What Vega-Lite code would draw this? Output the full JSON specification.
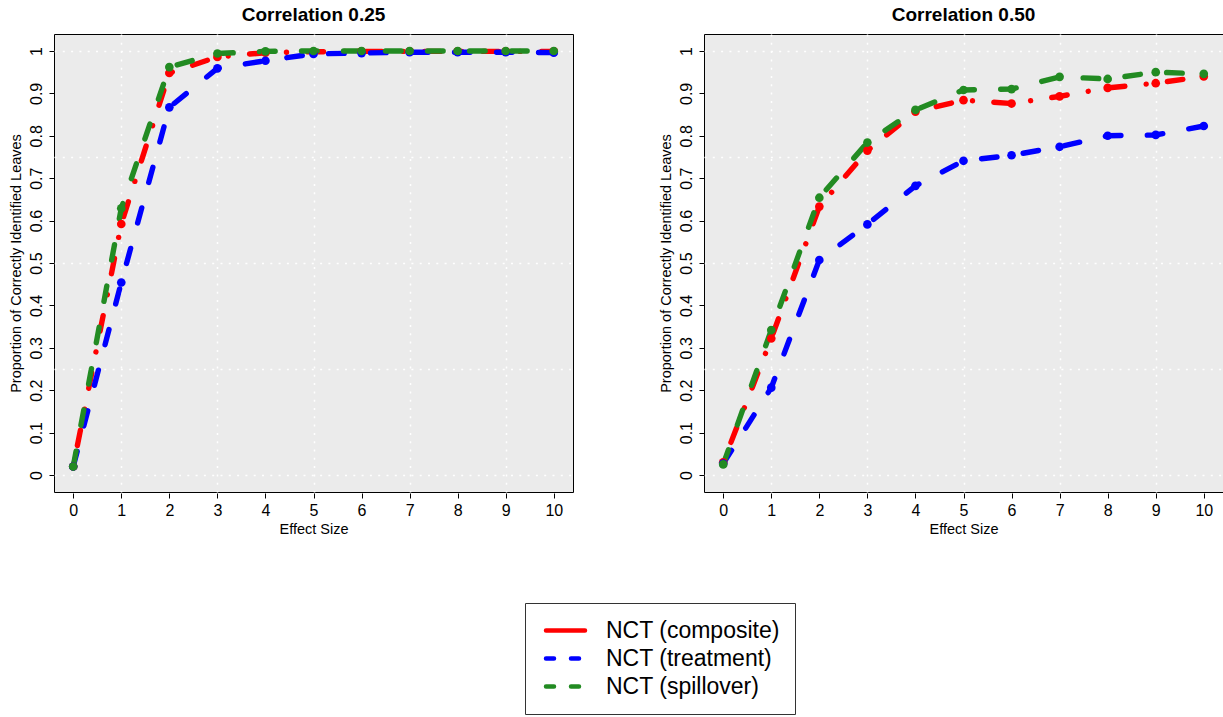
{
  "$schema": "https://vega.github.io/schema/vega-lite/v6.json",
  "padding": {"left": 8, "top": 6, "right": 0, "bottom": 0},
  "config": {
    "font": "Liberation Sans",
    "view": {"fill": "#EBEBEB", "stroke": "black", "strokeWidth": 1},
    "axis": {
      "domain": false, "tickColor": "black", "tickSize": 5, "tickWidth": 1,
      "labelColor": "black", "labelFontSize": 16, "labelFont": "Liberation Sans",
      "titleFontSize": 14.5, "titleFontWeight": "normal", "titleColor": "black", "titleFont": "Liberation Sans",
      "gridColor": "white", "gridDash": [2, 6.3], "gridWidth": 1.5
    },
    "legend": {
      "orient": "none", "legendX": 471, "legendY": 569, "direction": "vertical",
      "symbolType": "M-0.65,0H3.25", "symbolSize": 400, "symbolStrokeWidth": 4.5,
      "labelFontSize": 23, "labelFont": "Liberation Sans", "labelColor": "black", "labelOffset": 41, "labelLimit": 0,
      "padding": 15, "rowPadding": 3, "strokeColor": "#333333", "fillColor": "white", "title": null
    }
  },
  "data": {"values": [
    {"panel": "Correlation 0.25", "method": "NCT (composite)", "effect": 0, "prop": 0.02},
    {"panel": "Correlation 0.25", "method": "NCT (composite)", "effect": 1, "prop": 0.592},
    {"panel": "Correlation 0.25", "method": "NCT (composite)", "effect": 2, "prop": 0.948},
    {"panel": "Correlation 0.25", "method": "NCT (composite)", "effect": 3, "prop": 0.986},
    {"panel": "Correlation 0.25", "method": "NCT (composite)", "effect": 4, "prop": 0.996},
    {"panel": "Correlation 0.25", "method": "NCT (composite)", "effect": 5, "prop": 0.998},
    {"panel": "Correlation 0.25", "method": "NCT (composite)", "effect": 6, "prop": 0.999},
    {"panel": "Correlation 0.25", "method": "NCT (composite)", "effect": 7, "prop": 0.999},
    {"panel": "Correlation 0.25", "method": "NCT (composite)", "effect": 8, "prop": 0.999},
    {"panel": "Correlation 0.25", "method": "NCT (composite)", "effect": 9, "prop": 0.999},
    {"panel": "Correlation 0.25", "method": "NCT (composite)", "effect": 10, "prop": 0.999},
    {"panel": "Correlation 0.25", "method": "NCT (treatment)", "effect": 0, "prop": 0.02},
    {"panel": "Correlation 0.25", "method": "NCT (treatment)", "effect": 1, "prop": 0.454},
    {"panel": "Correlation 0.25", "method": "NCT (treatment)", "effect": 2, "prop": 0.867},
    {"panel": "Correlation 0.25", "method": "NCT (treatment)", "effect": 3, "prop": 0.959},
    {"panel": "Correlation 0.25", "method": "NCT (treatment)", "effect": 4, "prop": 0.977},
    {"panel": "Correlation 0.25", "method": "NCT (treatment)", "effect": 5, "prop": 0.993},
    {"panel": "Correlation 0.25", "method": "NCT (treatment)", "effect": 6, "prop": 0.995},
    {"panel": "Correlation 0.25", "method": "NCT (treatment)", "effect": 7, "prop": 0.997},
    {"panel": "Correlation 0.25", "method": "NCT (treatment)", "effect": 8, "prop": 0.997},
    {"panel": "Correlation 0.25", "method": "NCT (treatment)", "effect": 9, "prop": 0.997},
    {"panel": "Correlation 0.25", "method": "NCT (treatment)", "effect": 10, "prop": 0.996},
    {"panel": "Correlation 0.25", "method": "NCT (spillover)", "effect": 0, "prop": 0.02},
    {"panel": "Correlation 0.25", "method": "NCT (spillover)", "effect": 1, "prop": 0.629},
    {"panel": "Correlation 0.25", "method": "NCT (spillover)", "effect": 2, "prop": 0.962},
    {"panel": "Correlation 0.25", "method": "NCT (spillover)", "effect": 3, "prop": 0.994},
    {"panel": "Correlation 0.25", "method": "NCT (spillover)", "effect": 4, "prop": 0.999},
    {"panel": "Correlation 0.25", "method": "NCT (spillover)", "effect": 5, "prop": 1.0},
    {"panel": "Correlation 0.25", "method": "NCT (spillover)", "effect": 6, "prop": 1.0},
    {"panel": "Correlation 0.25", "method": "NCT (spillover)", "effect": 7, "prop": 1.0},
    {"panel": "Correlation 0.25", "method": "NCT (spillover)", "effect": 8, "prop": 1.0},
    {"panel": "Correlation 0.25", "method": "NCT (spillover)", "effect": 9, "prop": 1.0},
    {"panel": "Correlation 0.25", "method": "NCT (spillover)", "effect": 10, "prop": 1.0},
    {"panel": "Correlation 0.50", "method": "NCT (composite)", "effect": 0, "prop": 0.03},
    {"panel": "Correlation 0.50", "method": "NCT (composite)", "effect": 1, "prop": 0.322},
    {"panel": "Correlation 0.50", "method": "NCT (composite)", "effect": 2, "prop": 0.633},
    {"panel": "Correlation 0.50", "method": "NCT (composite)", "effect": 3, "prop": 0.765},
    {"panel": "Correlation 0.50", "method": "NCT (composite)", "effect": 4, "prop": 0.857},
    {"panel": "Correlation 0.50", "method": "NCT (composite)", "effect": 5, "prop": 0.884},
    {"panel": "Correlation 0.50", "method": "NCT (composite)", "effect": 6, "prop": 0.876},
    {"panel": "Correlation 0.50", "method": "NCT (composite)", "effect": 7, "prop": 0.893},
    {"panel": "Correlation 0.50", "method": "NCT (composite)", "effect": 8, "prop": 0.913},
    {"panel": "Correlation 0.50", "method": "NCT (composite)", "effect": 9, "prop": 0.924},
    {"panel": "Correlation 0.50", "method": "NCT (composite)", "effect": 10, "prop": 0.94},
    {"panel": "Correlation 0.50", "method": "NCT (treatment)", "effect": 0, "prop": 0.027},
    {"panel": "Correlation 0.50", "method": "NCT (treatment)", "effect": 1, "prop": 0.206},
    {"panel": "Correlation 0.50", "method": "NCT (treatment)", "effect": 2, "prop": 0.507},
    {"panel": "Correlation 0.50", "method": "NCT (treatment)", "effect": 3, "prop": 0.591},
    {"panel": "Correlation 0.50", "method": "NCT (treatment)", "effect": 4, "prop": 0.682},
    {"panel": "Correlation 0.50", "method": "NCT (treatment)", "effect": 5, "prop": 0.741},
    {"panel": "Correlation 0.50", "method": "NCT (treatment)", "effect": 6, "prop": 0.754},
    {"panel": "Correlation 0.50", "method": "NCT (treatment)", "effect": 7, "prop": 0.774},
    {"panel": "Correlation 0.50", "method": "NCT (treatment)", "effect": 8, "prop": 0.8},
    {"panel": "Correlation 0.50", "method": "NCT (treatment)", "effect": 9, "prop": 0.802},
    {"panel": "Correlation 0.50", "method": "NCT (treatment)", "effect": 10, "prop": 0.823},
    {"panel": "Correlation 0.50", "method": "NCT (spillover)", "effect": 0, "prop": 0.025},
    {"panel": "Correlation 0.50", "method": "NCT (spillover)", "effect": 1, "prop": 0.342},
    {"panel": "Correlation 0.50", "method": "NCT (spillover)", "effect": 2, "prop": 0.654},
    {"panel": "Correlation 0.50", "method": "NCT (spillover)", "effect": 3, "prop": 0.784},
    {"panel": "Correlation 0.50", "method": "NCT (spillover)", "effect": 4, "prop": 0.861},
    {"panel": "Correlation 0.50", "method": "NCT (spillover)", "effect": 5, "prop": 0.908},
    {"panel": "Correlation 0.50", "method": "NCT (spillover)", "effect": 6, "prop": 0.91},
    {"panel": "Correlation 0.50", "method": "NCT (spillover)", "effect": 7, "prop": 0.939},
    {"panel": "Correlation 0.50", "method": "NCT (spillover)", "effect": 8, "prop": 0.934},
    {"panel": "Correlation 0.50", "method": "NCT (spillover)", "effect": 9, "prop": 0.95},
    {"panel": "Correlation 0.50", "method": "NCT (spillover)", "effect": 10, "prop": 0.946}
  ]},
  "facet": {"column": {"field": "panel", "type": "nominal", "header": {"title": null, "labelFontSize": 19, "labelFontWeight": "bold", "labelColor": "black", "labelFont": "Liberation Sans", "labelPadding": 8}}},
  "spacing": 84,
  "resolve": {"axis": {"y": "independent"}},
  "spec": {
    "width": 519,
    "height": 458,
    "encoding": {
      "x": {"field": "effect", "type": "quantitative", "scale": {"domain": [-0.4, 10.4], "nice": false, "zero": false},
        "axis": {"title": "Effect Size", "values": [0, 1, 2, 3, 4, 5, 6, 7, 8, 9, 10], "labelPadding": 4, "titlePadding": 4, "labelFlush": false, "labelOverlap": false,
          "gridOpacity": {"condition": {"test": "datum.value % 2 == 1", "value": 1}, "value": 0}}},
      "y": {"field": "prop", "type": "quantitative", "scale": {"domain": [-0.04, 1.04], "nice": false, "zero": false},
        "axis": {"title": "Proportion of Correctly Identified Leaves", "values": [0, 0.1, 0.2, 0.25, 0.3, 0.4, 0.5, 0.6, 0.7, 0.75, 0.8, 0.9, 1],
          "labelAngle": -90, "labelAlign": "center", "labelBaseline": "alphabetic", "labelPadding": 7.5, "titlePadding": 5, "labelOverlap": false, "labelFlush": false,
          "labelExpr": "(datum.value == 0.25 || datum.value == 0.75) ? '' : format(datum.value, '~g')",
          "tickOpacity": {"condition": {"test": "datum.value == 0.25 || datum.value == 0.75", "value": 0}, "value": 1},
          "gridOpacity": {"condition": {"test": "indexof([0, 0.25, 0.5, 0.75, 1], datum.value) >= 0", "value": 1}, "value": 0}}},
      "color": {"field": "method", "type": "nominal",
        "scale": {"domain": ["NCT (composite)", "NCT (treatment)", "NCT (spillover)"], "range": ["#FF0000", "#0000FF", "#228B22"]},
        "legend": {"encode": {"symbols": {"update": {"fill": {"value": "transparent"}, "strokeCap": {"value": "round"}, "strokeDash": {"signal": "datum.value === 'NCT (composite)' ? [1, 0] : [8, 17]"}}}}}}
    },
    "layer": [
      {"transform": [{"filter": "datum.method === 'NCT (composite)'"}],
        "mark": {"type": "line", "strokeWidth": 5.4, "strokeCap": "round", "strokeDash": [0.01, 21.4, 15.6, 21.4]}},
      {"transform": [{"filter": "datum.method !== 'NCT (composite)'"}],
        "mark": {"type": "line", "strokeWidth": 5.4, "strokeCap": "round", "strokeDash": [15.6, 26.4]}},
      {"mark": {"type": "circle", "size": 75, "opacity": 1}}
    ]
  }
}
